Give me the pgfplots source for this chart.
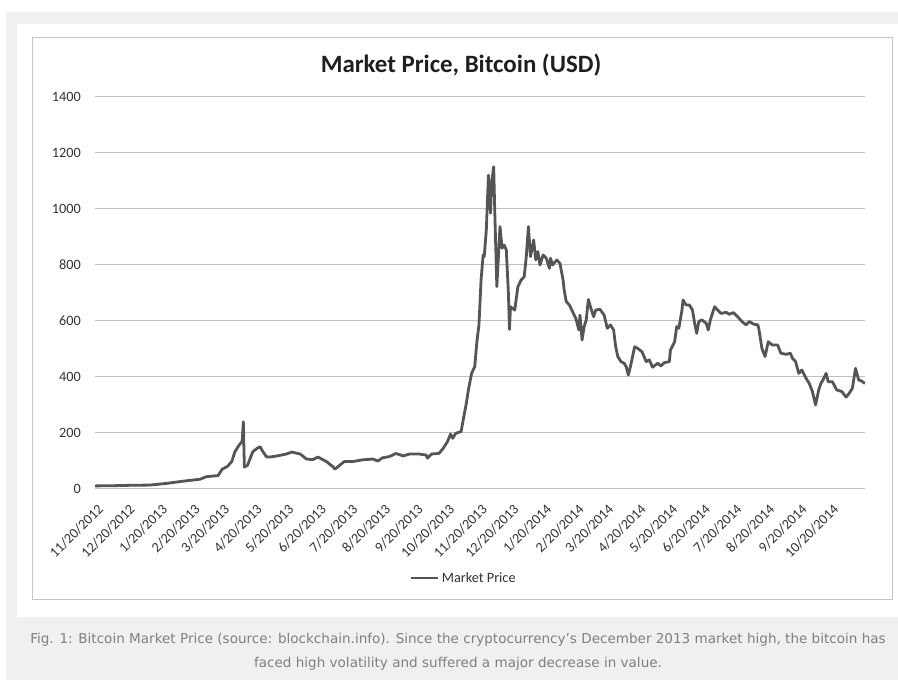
\documentclass[border=0pt]{standalone}
\usepackage{pgfplots}
\usepackage{pgfplotstable}
\pgfplotsset{compat=1.18}
\usepackage{fontspec}
\setmainfont{Carlito}
\newfontfamily\capfont{DejaVu Sans}
\definecolor{bggray}{HTML}{F0F0F0}
\definecolor{bordergray}{HTML}{C6C6C6}
\definecolor{gridgray}{HTML}{BFBFBF}
\definecolor{linegray}{HTML}{555555}
\definecolor{textgray}{HTML}{333333}
\definecolor{capgray}{HTML}{808080}

% day = days since 11/20/2012, price in USD
\pgfplotstableread{
day price
0 11
20 12
35 13.3
52 14
60 17
68 20
84 28
100 35
106 44
117 48
121 71
126 81
130 98
133 133
136 151
140 172
141 240
142 78
145 85
150 133
154 145
157 151
159 137
163 115
166 114
173 118
182 125
187 132
195 125
201 107
207 105
212 114
220 98
226 80
228 71
233 86
237 98
245 98
254 104
264 107
269 100
273 111
280 116
286 127
293 118
299 125
308 125
315 121
316 110
320 125
327 127
331 145
335 169
338 196
340 181
343 199
348 205
350 246
353 306
355 354
358 413
361 437
363 525
365 586
367 746
369 836
370 830
372 925
374 1121
376 985
377 1092
379 1151
380 996
382 723
384 865
385 937
387 860
389 871
391 854
393 699
394 570
395 651
399 639
402 722
405 746
408 758
410 830
412 937
414 830
417 889
419 818
421 848
423 800
426 836
429 824
432 788
433 824
435 800
439 818
442 806
445 746
446 711
448 669
451 657
454 633
457 610
460 568
461 621
463 532
465 580
467 604
469 677
471 651
474 615
476 639
480 642
484 621
487 574
490 586
493 568
495 508
497 473
500 455
503 449
505 437
507 407
509 437
513 508
516 502
520 490
524 455
527 461
530 435
535 449
538 439
541 451
546 455
547 496
551 526
553 580
555 574
558 639
559 675
562 657
565 657
568 639
570 592
572 556
574 598
577 604
581 592
583 568
585 604
589 651
592 639
595 627
600 631
603 624
607 630
611 615
615 598
619 586
622 598
626 589
630 586
631 574
634 502
637 473
640 526
644 514
649 514
652 485
657 481
661 485
663 467
666 455
669 413
672 425
676 395
679 377
682 348
685 300
688 354
690 377
692 389
695 413
697 383
701 383
705 354
710 348
714 328
717 342
720 360
723 431
726 389
728 387
732 377
}\btcdata

\begin{document}
\begin{tikzpicture}
\useasboundingbox (0bp,0bp) rectangle (898bp,680bp);
\fill[white] (0bp,0bp) rectangle (898bp,680bp);
\fill[bggray] (6bp,0bp) rectangle (898bp,668bp);
\fill[white] (17bp,63bp) rectangle (898bp,656bp);
\draw[bordergray, line width=1bp] (32bp,80bp) rectangle (892bp,642bp);
\node[font=\bfseries\fontsize{25}{29}\selectfont, anchor=base, text=black!88, inner sep=0pt] at (461bp,607bp) {Market Price, Bitcoin (USD)};
\begin{axis}[
  at={(95bp,191bp)}, anchor=south west,
  scale only axis, width=770bp, height=392bp,
  xmin=0, xmax=732, ymin=0, ymax=1400,
  ytick={0,200,...,1400},
  xtick={0,30,61,92,120,151,181,212,242,273,304,334,365,395,426,457,485,516,546,577,607,638,669,699},
  xticklabels={11/20/2012,12/20/2012,1/20/2013,2/20/2013,3/20/2013,4/20/2013,5/20/2013,6/20/2013,7/20/2013,8/20/2013,9/20/2013,10/20/2013,11/20/2013,12/20/2013,1/20/2014,2/20/2014,3/20/2014,4/20/2014,5/20/2014,6/20/2014,7/20/2014,8/20/2014,9/20/2014,10/20/2014},
  axis line style={draw=none},
  tick style={draw=none},
  ymajorgrids,
  major grid style={gridgray, line width=1bp},
  ticklabel style={font=\fontsize{14.3}{16}\selectfont, text=textgray},
  yticklabel style={/pgf/number format/assume math mode=true, /pgf/number format/1000 sep={}, anchor=east, inner sep=0pt, xshift=-14bp},
  xticklabel style={xshift=2bp, yshift=-14bp, rotate=45, anchor=north east, inner sep=0pt},
  legend style={at={(0.479,-0.227)}, anchor=center, draw=none, fill=none, font=\fontsize{14.3}{16}\selectfont, text=textgray},
  legend image code/.code={\draw[#1] (0bp,0bp) -- (27bp,0bp);},
]
\addplot[linegray, line width=2.8bp, line join=round] table[x=day, y=price] {\btcdata};
\addlegendentry{Market Price}
\end{axis}
\node[font=\capfont\fontsize{13.6}{16}\selectfont, text=capgray, anchor=base, inner sep=0pt] at (458bp,37bp) {Fig. 1: Bitcoin Market Price (source: blockchain.info). Since the cryptocurrency’s December 2013 market high, the bitcoin has};
\node[font=\capfont\fontsize{13.6}{16}\selectfont, text=capgray, anchor=base, inner sep=0pt] at (458bp,13bp) {faced high volatility and suffered a major decrease in value.};
\end{tikzpicture}
\end{document}
